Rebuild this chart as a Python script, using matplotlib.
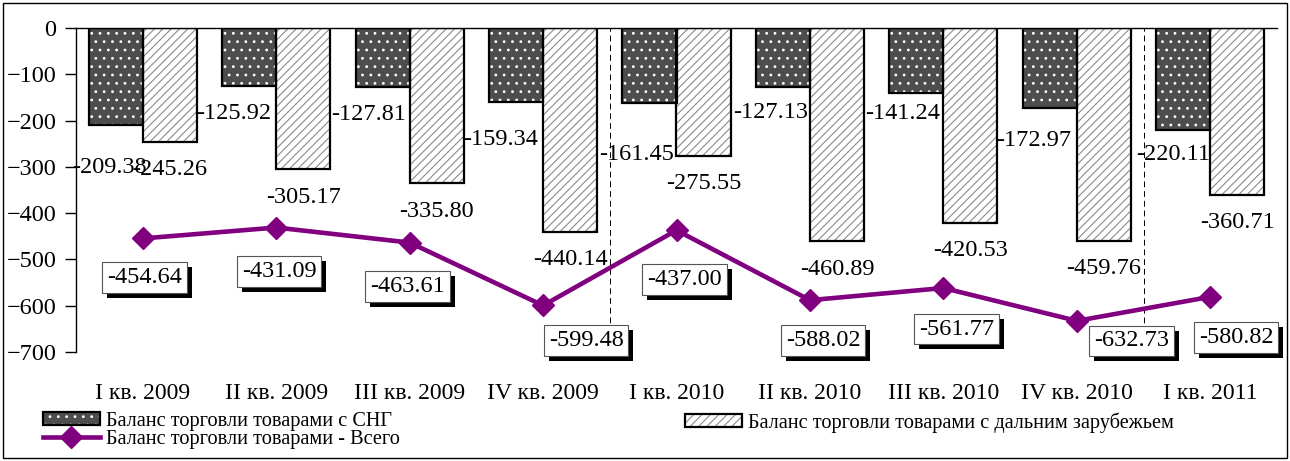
import numpy as np
import matplotlib
matplotlib.use('Agg')
import matplotlib.pyplot as plt
import matplotlib.patheffects as pe
from matplotlib.patches import Patch, Rectangle
from matplotlib.lines import Line2D

plt.rcParams['font.family'] = ['Liberation Serif', 'DejaVu Serif']

# Data
quarters = ['I кв. 2009', 'II кв. 2009', 'III кв. 2009', 'IV кв. 2009',
            'I кв. 2010', 'II кв. 2010', 'III кв. 2010', 'IV кв. 2010', 'I кв. 2011']
cis_balance = [-209.38, -125.92, -127.81, -159.34, -161.45, -127.13, -141.24, -172.97, -220.11]
far_balance = [-245.26, -305.17, -335.80, -440.14, -275.55, -460.89, -420.53, -459.76, -360.71]
total_balance = [-454.64, -431.09, -463.61, -599.48, -437.00, -588.02, -561.77, -632.73, -580.82]

lbl_cis = 'Баланс торговли товарами с СНГ'
lbl_far = 'Баланс торговли товарами с дальним зарубежьем'
lbl_total = 'Баланс торговли товарами - Всего'

# label placement tweaks (pixels)
cis_lbl_off = [(-6, 43), (-15, 27), (-14, 27), (-15, 38), (-13, 52), (-12, 26), (-14, 20), (-16, 32), (-10, 25)]
tot_lbl_off = [(2, 39), (3, 44), (-2, 44), (43, 35), (8, 49), (13, 40), (13, 41), (55, 20), (26, 41)]

fig = plt.figure(figsize=(12.9, 4.61), dpi=100)
ax = fig.add_axes([76 / 1290, 1 - 352 / 461, (1277 - 76) / 1290, (352 - 28) / 461])

x = np.arange(len(quarters))
w = 0.405
dark = '#4d4d4d'
purple = '#800080'
plt.rcParams['hatch.linewidth'] = 0.8

# dotted dark bars (hatch layer + outline)
ax.bar(x - w / 2, cis_balance, w, facecolor=dark, edgecolor='white', hatch='..', linewidth=0, zorder=2)
ax.bar(x - w / 2, cis_balance, w, fill=False, edgecolor='black', linewidth=1.6, zorder=3)
# hatched bars
ax.bar(x + w / 2, far_balance, w, facecolor='white', edgecolor='#8a8a8a', hatch='////', linewidth=0, zorder=2)
ax.bar(x + w / 2, far_balance, w, fill=False, edgecolor='black', linewidth=1.6, zorder=3)

ax.plot(x, total_balance, color=purple, linewidth=3.3, marker='D', markersize=11, zorder=5)

for xv in [3.5, 7.5]:
    ax.axvline(xv, color='black', linestyle=(0, (6, 4)), linewidth=0.7, zorder=1)

shadow = [pe.SimplePatchShadow(offset=(3.6, -3.6), shadow_rgbFace='black', alpha=1), pe.Normal()]
for i in range(len(x)):
    dx, dy = cis_lbl_off[i]
    ax.annotate(f'{cis_balance[i]:.2f}', (x[i] - w / 2, cis_balance[i]), xytext=(dx, -dy),
                textcoords='offset pixels', ha='center', va='center', fontsize=17.5, zorder=6,
                annotation_clip=False)
    ax.annotate(f'{far_balance[i]:.2f}', (x[i] + w / 2, far_balance[i]), xytext=(0, -28),
                textcoords='offset pixels', ha='center', va='center', fontsize=17.5, zorder=6,
                annotation_clip=False)
    dx, dy = tot_lbl_off[i]
    t = ax.annotate(f'{total_balance[i]:.2f}', (x[i], total_balance[i]), xytext=(dx, -dy),
                    textcoords='offset pixels', ha='center', va='center', fontsize=17.5,
                    bbox=dict(boxstyle='square,pad=0.2', fc='white', ec='#555555', lw=0.8),
                    zorder=7, annotation_clip=False)
    t.get_bbox_patch().set_path_effects(shadow)

ax.set_xlim(-0.5, len(x) - 0.5)
ax.set_ylim(-700, 0)
ax.set_yticks(np.arange(-700, 1, 100))
ax.set_xticks(x)
ax.set_xticklabels(quarters)
ax.tick_params(axis='y', labelsize=17.5, direction='out', length=8, width=1, pad=6)
ax.tick_params(axis='x', labelsize=17, length=0, pad=22)
ax.spines['right'].set_visible(False)
ax.spines['bottom'].set_visible(False)
ax.spines['top'].set_linewidth(1)
ax.spines['left'].set_linewidth(1)

h_cis = (Patch(facecolor=dark, edgecolor='white', hatch='..', linewidth=0),
         Patch(fill=False, edgecolor='black', linewidth=1.6))
h_far = (Patch(facecolor='white', edgecolor='#8a8a8a', hatch='////', linewidth=0),
         Patch(fill=False, edgecolor='black', linewidth=1.6))
h_tot = Line2D([], [], color=purple, linewidth=3.3, marker='D', markersize=11)
leg_kw = dict(loc='upper left', frameon=False, fontsize=14.6, handlelength=2.8, handleheight=0.6,
              handletextpad=0.33, labelspacing=-0.05, borderaxespad=0, borderpad=0)
fig.legend([h_cis, h_tot], [lbl_cis, lbl_total], bbox_to_anchor=(43 / 1290, 1 - 412 / 461), **leg_kw)
fig.legend([h_far], [lbl_far], bbox_to_anchor=(685 / 1290, 1 - 412 / 461), **leg_kw)

fig.patches.append(Rectangle((3 / 1290, 3 / 461), 1284 / 1290, 455 / 461, transform=fig.transFigure,
                             fill=False, edgecolor='black', linewidth=1))

fig.savefig('out.png', dpi=100)
